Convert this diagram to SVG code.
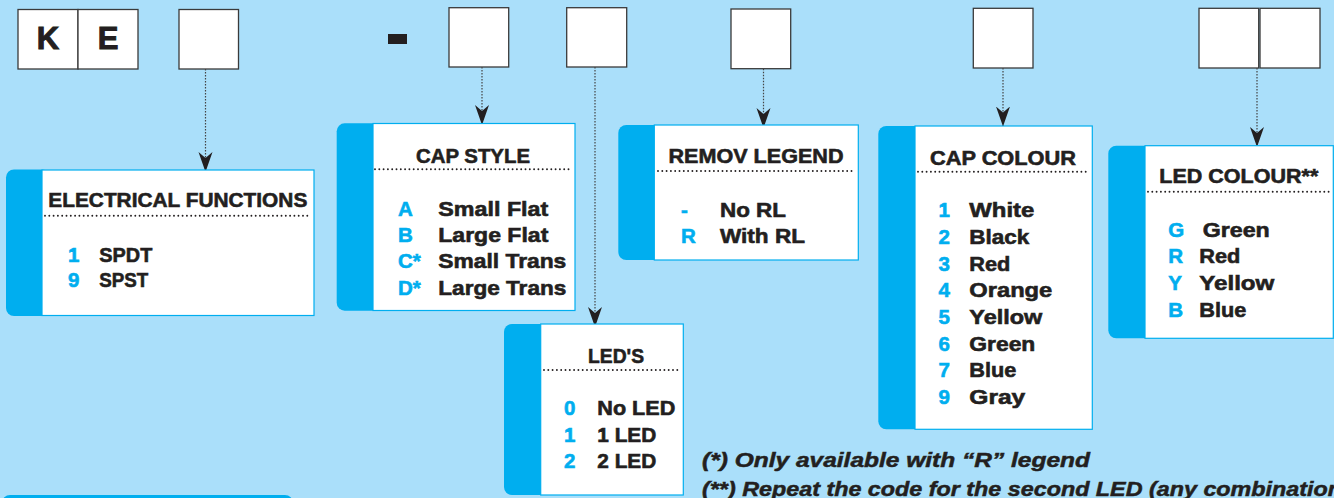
<svg xmlns="http://www.w3.org/2000/svg" width="1334" height="498" viewBox="0 0 1334 498">
<style>
.code{fill:#fff;stroke:#3a3a3a;stroke-width:1.3}
.bar{fill:#00aeef}
.panel{fill:#fff;stroke:#00aeef;stroke-width:1.2}
text{font-family:"Liberation Sans",Arial,sans-serif;font-weight:bold}
.big{font-size:31px;fill:#231f20;stroke:#231f20;stroke-width:1;text-anchor:middle}
.hd{font-size:21px;fill:#231f20;stroke:#231f20;stroke-width:0.6;text-anchor:middle}
.key{font-size:20.5px;fill:#00aeef;stroke:#00aeef;stroke-width:0.6}
.lbl{font-size:20.5px;fill:#231f20;stroke:#231f20;stroke-width:0.6}
.note{font-size:20.5px;fill:#231f20;stroke:#231f20;stroke-width:0.5;font-style:italic}
.dots{stroke:#231f20;stroke-width:1.9;stroke-linecap:round;stroke-dasharray:0 4.3;fill:none}
.conn{stroke:#444;stroke-width:1.2;stroke-dasharray:1.6 1.4;fill:none;marker-end:url(#ah)}
</style>
<defs>
<marker id="ah" markerUnits="userSpaceOnUse" viewBox="0 -7.5 21 15" markerWidth="21" markerHeight="15" refX="20" refY="0" orient="auto">
<path d="M0,-7 L20,0 L0,7 L6,0 Z" fill="#231f20"/>
</marker>
</defs>
<rect width="1334" height="498" fill="#aadffa"/>

<g id="code">
<rect class="code" x="18" y="9.5" width="60" height="59.5"/>
<rect class="code" x="78" y="9.5" width="60" height="59.5"/>
<text class="big" x="48" y="48.5">K</text>
<text class="big" x="108" y="48.5">E</text>
<rect class="code" x="179" y="9.5" width="59.5" height="59.5"/>
<rect x="388" y="34" width="19" height="10" fill="#231f20"/>
<rect class="code" x="449" y="7.7" width="59.7" height="59.3"/>
<rect class="code" x="566.7" y="7.7" width="60" height="59.3"/>
<rect class="code" x="731" y="9" width="59.7" height="59.7"/>
<rect class="code" x="973.3" y="8.3" width="59.7" height="59.7"/>
<rect class="code" x="1199" y="8.3" width="59.7" height="59.7"/>
<rect class="code" x="1260" y="8.3" width="60" height="59.7"/>
</g>

<g id="connectors">
<line class="conn" x1="205.5" y1="69" x2="205.5" y2="172"/>
<line class="conn" x1="482" y1="67" x2="482" y2="125"/>
<line class="conn" x1="595" y1="67" x2="595" y2="327"/>
<line class="conn" x1="763.5" y1="68.7" x2="763.5" y2="128"/>
<line class="conn" x1="1003" y1="68" x2="1003" y2="126.5"/>
<line class="conn" x1="1257" y1="68" x2="1257" y2="147"/>
</g>

<g id="electrical-functions">
<rect class="bar" x="6" y="169.5" width="44" height="146.5" rx="8"/>
<rect class="panel" x="42" y="170" width="272" height="145.5"/>
<text class="hd" x="177.8" y="207.3" textLength="259" lengthAdjust="spacingAndGlyphs">ELECTRICAL FUNCTIONS</text>
<line class="dots" x1="45" y1="215.7" x2="311" y2="215.7"/>
<text class="key" x="68" y="261.7">1</text><text class="lbl" x="99.3" y="261.7" textLength="53" lengthAdjust="spacingAndGlyphs">SPDT</text>
<text class="key" x="68" y="287.3">9</text><text class="lbl" x="99.3" y="287.3" textLength="49" lengthAdjust="spacingAndGlyphs">SPST</text>
</g>

<g id="cap-style">
<rect class="bar" x="336.7" y="123.3" width="44" height="187.4" rx="8"/>
<rect class="panel" x="373" y="123.5" width="202" height="187"/>
<text class="hd" x="473" y="162.7" textLength="114" lengthAdjust="spacingAndGlyphs">CAP STYLE</text>
<line class="dots" x1="375" y1="169.3" x2="572" y2="169.3"/>
<text class="key" x="398" y="216">A</text><text class="lbl" x="438.3" y="216" textLength="110" lengthAdjust="spacingAndGlyphs">Small Flat</text>
<text class="key" x="398" y="242">B</text><text class="lbl" x="438.3" y="242" textLength="110" lengthAdjust="spacingAndGlyphs">Large Flat</text>
<text class="key" x="398" y="268">C*</text><text class="lbl" x="438.3" y="268" textLength="128" lengthAdjust="spacingAndGlyphs">Small Trans</text>
<text class="key" x="398" y="294.5">D*</text><text class="lbl" x="438.3" y="294.5" textLength="128" lengthAdjust="spacingAndGlyphs">Large Trans</text>
</g>

<g id="leds">
<rect class="bar" x="504" y="324" width="44" height="171" rx="8"/>
<rect class="panel" x="540.7" y="324" width="142.6" height="171"/>
<text class="hd" x="616" y="362.7" textLength="56" lengthAdjust="spacingAndGlyphs">LED'S</text>
<line class="dots" x1="544" y1="370" x2="680" y2="370"/>
<text class="key" x="564" y="415.3">0</text><text class="lbl" x="597.3" y="415.3" textLength="78" lengthAdjust="spacingAndGlyphs">No LED</text>
<text class="key" x="564" y="442">1</text><text class="lbl" x="597.3" y="442" textLength="59" lengthAdjust="spacingAndGlyphs">1 LED</text>
<text class="key" x="564" y="468.3">2</text><text class="lbl" x="597.3" y="468.3" textLength="59" lengthAdjust="spacingAndGlyphs">2 LED</text>
</g>

<g id="remov-legend">
<rect class="bar" x="618.3" y="125" width="44" height="135" rx="8"/>
<rect class="panel" x="654.3" y="125" width="204" height="135"/>
<text class="hd" x="756" y="163.3" textLength="175" lengthAdjust="spacingAndGlyphs">REMOV LEGEND</text>
<line class="dots" x1="658" y1="171" x2="855" y2="171"/>
<text class="key" x="681" y="216.7">-</text><text class="lbl" x="720" y="216.7" textLength="66" lengthAdjust="spacingAndGlyphs">No RL</text>
<text class="key" x="681" y="243.3">R</text><text class="lbl" x="720" y="243.3" textLength="85" lengthAdjust="spacingAndGlyphs">With RL</text>
</g>

<g id="cap-colour">
<rect class="bar" x="878.3" y="126" width="44" height="303.3" rx="8"/>
<rect class="panel" x="915" y="126" width="177.3" height="303.3"/>
<text class="hd" x="1003" y="165" textLength="146" lengthAdjust="spacingAndGlyphs">CAP COLOUR</text>
<line class="dots" x1="918" y1="171.7" x2="1088" y2="171.7"/>
<text class="key" x="938.5" y="217.3">1</text><text class="lbl" x="969.3" y="217.3" textLength="65" lengthAdjust="spacingAndGlyphs">White</text>
<text class="key" x="938.5" y="244">2</text><text class="lbl" x="969.3" y="244" textLength="60" lengthAdjust="spacingAndGlyphs">Black</text>
<text class="key" x="938.5" y="270.6">3</text><text class="lbl" x="969.3" y="270.6" textLength="41" lengthAdjust="spacingAndGlyphs">Red</text>
<text class="key" x="938.5" y="297.3">4</text><text class="lbl" x="969.3" y="297.3" textLength="83" lengthAdjust="spacingAndGlyphs">Orange</text>
<text class="key" x="938.5" y="324">5</text><text class="lbl" x="969.3" y="324" textLength="73" lengthAdjust="spacingAndGlyphs">Yellow</text>
<text class="key" x="938.5" y="350.6">6</text><text class="lbl" x="969.3" y="350.6" textLength="66" lengthAdjust="spacingAndGlyphs">Green</text>
<text class="key" x="938.5" y="377.3">7</text><text class="lbl" x="969.3" y="377.3" textLength="47" lengthAdjust="spacingAndGlyphs">Blue</text>
<text class="key" x="938.5" y="404">9</text><text class="lbl" x="969.3" y="404" textLength="56" lengthAdjust="spacingAndGlyphs">Gray</text>
</g>

<g id="led-colour">
<rect class="bar" x="1108.3" y="145.7" width="44" height="192.6" rx="8"/>
<rect class="panel" x="1145" y="145.7" width="188.3" height="192.6"/>
<text class="hd" x="1238.8" y="183.3" textLength="159" lengthAdjust="spacingAndGlyphs">LED COLOUR**</text>
<line class="dots" x1="1148" y1="191.7" x2="1330" y2="191.7"/>
<text class="key" x="1168.3" y="237.3">G</text><text class="lbl" x="1202.7" y="237.3" textLength="67" lengthAdjust="spacingAndGlyphs">Green</text>
<text class="key" x="1168.3" y="263.3">R</text><text class="lbl" x="1199.3" y="263.3" textLength="41" lengthAdjust="spacingAndGlyphs">Red</text>
<text class="key" x="1168.3" y="290">Y</text><text class="lbl" x="1199.3" y="290" textLength="75" lengthAdjust="spacingAndGlyphs">Yellow</text>
<text class="key" x="1168.3" y="316.7">B</text><text class="lbl" x="1199.3" y="316.7" textLength="47" lengthAdjust="spacingAndGlyphs">Blue</text>
</g>

<g id="partial-box">
<rect class="bar" x="2" y="495" width="291" height="20" rx="8"/>
</g>

<g id="notes">
<text class="note" x="702" y="467.3" textLength="388" lengthAdjust="spacingAndGlyphs">(*) Only available with “R” legend</text>
<text class="note" x="702" y="495.5" textLength="640" lengthAdjust="spacingAndGlyphs">(**) Repeat the code for the second LED (any combination</text>
</g>
</svg>
